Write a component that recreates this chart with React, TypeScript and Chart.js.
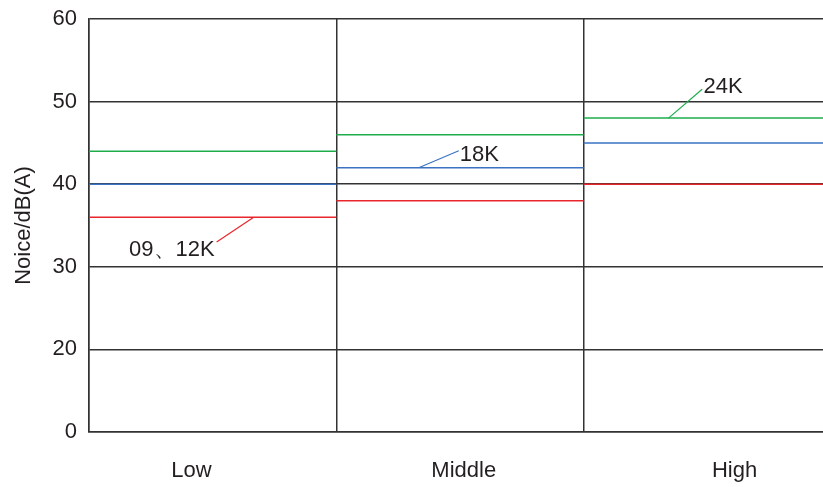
import React, { useEffect, useRef } from 'react';
import { Chart, registerables } from 'chart.js';

Chart.register(...registerables);

const categories = ['Low', 'Middle', 'High'];
const seriesLabels = ['09、12K', '18K', '24K'];
const series0912K = [36, 38, 40];
const series18K = [40, 42, 45];
const series24K = [44, 46, 48];
const yTickValues = [10, 20, 30, 40, 50, 60];
const yTickLabels = ['0', '20', '30', '40', '50', '60'];
const yAxisTitle = 'Noice/dB(A)';

const COLORS = ['#e8262b', '#3b73c2', '#1fad4c'];
const TEXT = '#231f20';
const GRID = '#333333';
const FONT = "'Liberation Sans', Arial, sans-serif";

// callout geometry, in axis units
const callouts = [
  { from: [0.663, 35.95], to: [0.516, 33.0], text: [0.508, 31.3], align: 'right' },
  { from: [1.333, 42.0], to: [1.495, 44.05], text: [1.499, 42.8], align: 'left' },
  { from: [2.343, 48.0], to: [2.479, 51.5], text: [2.485, 51.05], align: 'left' },
];
const categoryLabelAt = [0.414, 1.515, 2.61];

function stepData(values: number[]) {
  const pts: { x: number; y: number | null }[] = [];
  values.forEach((v, i) => {
    pts.push({ x: i, y: v }, { x: i + 1, y: v }, { x: i + 1, y: null });
  });
  return pts;
}

const calloutPlugin = {
  id: 'callouts',
  afterDatasetsDraw(chart: any) {
    const { ctx } = chart;
    const x = chart.scales.x;
    const y = chart.scales.y;
    ctx.save();
    callouts.forEach((c, i) => {
      ctx.strokeStyle = COLORS[i];
      ctx.lineWidth = 1.2;
      ctx.beginPath();
      ctx.moveTo(x.getPixelForValue(c.from[0]), y.getPixelForValue(c.from[1]));
      ctx.lineTo(x.getPixelForValue(c.to[0]), y.getPixelForValue(c.to[1]));
      ctx.stroke();
      ctx.fillStyle = TEXT;
      ctx.font = `22px ${FONT}`;
      ctx.textAlign = c.align;
      ctx.textBaseline = 'alphabetic';
      ctx.fillText(seriesLabels[i], x.getPixelForValue(c.text[0]), y.getPixelForValue(c.text[1]));
    });
    ctx.restore();
  },
};

export default function App() {
  const ref = useRef<HTMLCanvasElement>(null);
  useEffect(() => {
    if (!ref.current) return;
    const allSeries = [series0912K, series18K, series24K];
    const chart = new Chart(ref.current, {
      type: 'line',
      data: {
        datasets: allSeries.map((s, i) => ({
          label: seriesLabels[i],
          data: stepData(s),
          borderColor: COLORS[i],
          backgroundColor: COLORS[i],
          borderWidth: 1.5,
          pointRadius: 0,
          spanGaps: false,
          tension: 0,
          fill: false,
        })),
      },
      options: {
        responsive: false,
        animation: false,
        layout: { padding: { top: 19, right: 9, left: 0, bottom: 0 } },
        plugins: { legend: { display: false }, tooltip: { enabled: false } },
        scales: {
          x: {
            type: 'linear',
            position: 'bottom',
            min: 0,
            max: 3,
            ticks: { display: false, stepSize: 1 },
            grid: { color: GRID, lineWidth: 1.5, drawTicks: false },
            border: { color: GRID, width: 1.5 },
          },
          xl: {
            type: 'linear',
            position: 'bottom',
            min: 0,
            max: 3,
            afterBuildTicks: (s: any) => {
              s.ticks = categoryLabelAt.map((v) => ({ value: v }));
            },
            afterFit: (s: any) => {
              s.height = 55;
              s.paddingLeft = 0;
              s.paddingRight = 0;
            },
            ticks: {
              callback: (_v: any, i: number) => categories[i],
              font: { size: 22, family: FONT },
              color: TEXT,
              padding: 26,
              maxRotation: 0,
              autoSkip: false,
            },
            grid: { display: false, drawTicks: false },
            border: { display: false },
          },
          y: {
            type: 'linear',
            min: 10,
            max: 60,
            afterBuildTicks: (s: any) => {
              s.ticks = yTickValues.map((v) => ({ value: v }));
            },
            afterFit: (s: any) => {
              s.width = 89;
              s.paddingTop = 0;
              s.paddingBottom = 0;
            },
            ticks: {
              callback: (_v: any, i: number) => yTickLabels[i],
              font: { size: 22, family: FONT },
              color: TEXT,
              padding: 12,
            },
            grid: { color: GRID, lineWidth: 1.5, drawTicks: false },
            border: { color: GRID, width: 1.5 },
            title: {
              display: true,
              text: yAxisTitle,
              font: { size: 22, family: FONT },
              color: TEXT,
              padding: { top: 11, bottom: 0 },
            },
          },
        },
      } as any,
      plugins: [calloutPlugin],
    });
    return () => chart.destroy();
  }, []);
  return (
    <div
      style={{
        position: 'fixed',
        left: 0,
        top: 0,
        width: 823,
        height: 487,
        overflow: 'hidden',
        background: '#fff',
      }}
    >
      <canvas ref={ref} width={840} height={487} />
    </div>
  );
}
